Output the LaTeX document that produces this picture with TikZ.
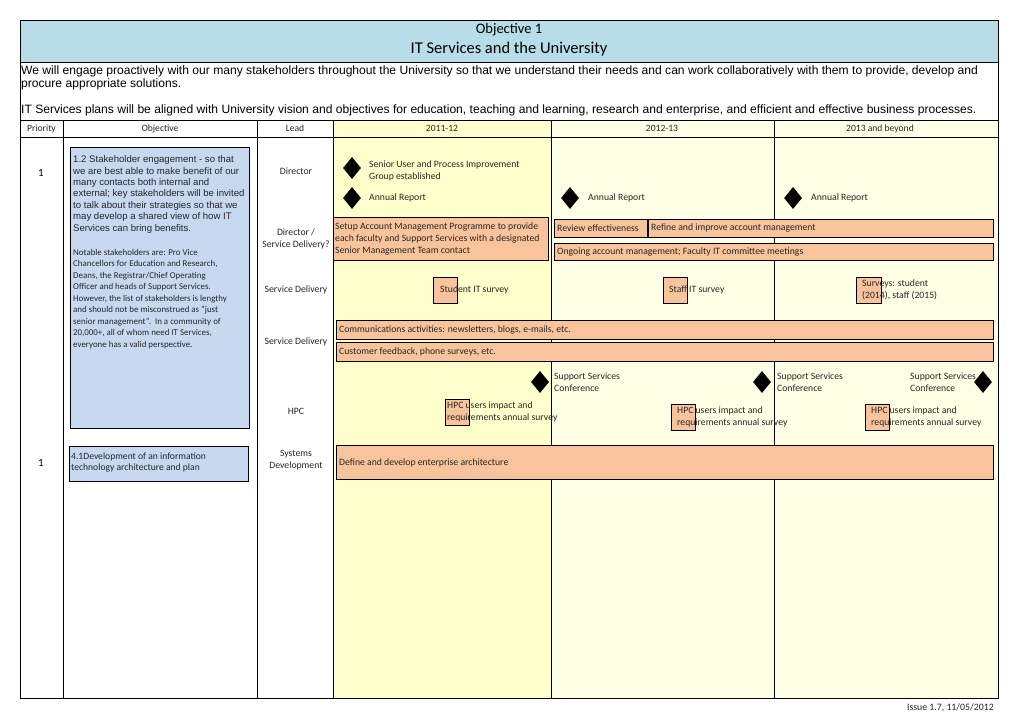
\documentclass[tikz,border=0pt]{standalone}
\usepackage{fontspec}
\setmainfont{Carlito}
\newfontfamily\arialf{Liberation Sans}
\usetikzlibrary{shapes.geometric}
\definecolor{hdrblue}{HTML}{B7DDE8}
\definecolor{boxblue}{HTML}{C6D9F1}
\definecolor{barorange}{HTML}{F9C49B}
\definecolor{yelA}{HTML}{FFFFCC}
\definecolor{yelB}{HTML}{FFFFE6}
\tikzset{
  grid/.style={line width=0.8pt, draw=black},
  lbl/.style={font=\fontsize{9.7}{12}\selectfont, inner sep=0pt, anchor=west, align=left, text=black!85},
  hdr/.style={font=\fontsize{9.6}{11}\selectfont, inner sep=0pt, anchor=base, text=black!85},
  lead/.style={font=\fontsize{9.7}{12}\selectfont, inner sep=0pt, align=center, text=black!85},
  bar/.style={draw=black, line width=0.9pt, fill=barorange, inner sep=0pt, anchor=north west},
  sq/.style={draw=black, line width=0.8pt, fill=barorange, inner sep=0pt, anchor=north west, minimum width=24pt, minimum height=26pt},
  objbox/.style={draw=black, line width=1pt, fill=boxblue, inner sep=0pt, anchor=north west},
  ms/.style={diamond, fill=black, inner sep=0pt, minimum width=18pt, minimum height=22pt},
  para/.style={font=\arialf\fontsize{12.1}{14}\selectfont, inner sep=0pt, anchor=west}
}
\begin{document}
\begin{tikzpicture}[x=1pt,y=-1pt]
\useasboundingbox (0,0) rectangle (1019,720);
% backgrounds
\fill[white] (0,0) rectangle (1019,720);
\fill[hdrblue] (20,20) rectangle (998,62);
\fill[yelA] (333,120) rectangle (551,698);
\fill[yelB] (551,120) rectangle (998,698);
% grid
\draw[grid] (20,20) rectangle (998,698);
\draw[grid] (20,62) -- (998,62);
\draw[grid] (20,120) -- (998,120);
\draw[grid] (20,137) -- (998,137);
\foreach \x in {63,257,333,551,774} \draw[grid] (\x,120) -- (\x,698);
% header
\node[font=\fontsize{14.5}{16}\selectfont, inner sep=0pt] (t1) at (509,30) {Objective 1};
\node[font=\fontsize{16.5}{18}\selectfont, inner sep=0pt] (t2) at (509,49) {IT Services and the University};
\node[para] (p1) at (21,71) {We will engage proactively with our many stakeholders throughout the University so that we understand their needs and can work collaboratively with them to provide, develop and};
\node[para] (p2) at (21,84) {procure appropriate solutions.};
\node[para] (p3) at (21,110) {IT Services plans will be aligned with University vision and objectives for education, teaching and learning, research and enterprise, and efficient and effective business processes.};
% column headers
\node[hdr] (h1) at (41.5,131.5) {Priority};
\node[hdr] (h2) at (160,131.5) {Objective};
\node[hdr] (h3) at (295,131.5) {Lead};
\node[hdr] (h4) at (442,131.5) {2011-12};
\node[hdr] (h5) at (662,131.5) {2012-13};
\node[hdr] (h6) at (880,131.5) {2013 and beyond};
% priorities
\node[font=\fontsize{11}{12}\selectfont, inner sep=0pt] (pr1) at (41,173) {1};
\node[font=\fontsize{11}{12}\selectfont, inner sep=0pt] (pr2) at (41,463) {1};
% objective boxes
\node[objbox, minimum width=179pt, minimum height=281pt] (ob1) at (70,147) {};
\node[inner sep=0pt, anchor=west, align=left, font=\arialf\fontsize{9.6}{11.35}\selectfont, text=black!85] (ob1a) at (73,194.5) {1.2 Stakeholder engagement - so that\\we are best able to make benefit of our\\many contacts both internal and\\external; key stakeholders will be invited\\to talk about their strategies so that we\\may develop a shared view of how IT\\Services can bring benefits.};
\node[inner sep=0pt, anchor=west, align=left, font=\fontsize{8.9}{11.5}\selectfont, text=black!85] (ob1b) at (73,299) {Notable stakeholders are: Pro Vice\\Chancellors for Education and Research,\\Deans, the Registrar/Chief Operating\\Officer and heads of Support Services.\\However, the list of stakeholders is lengthy\\and should not be misconstrued as "just\\senior management".\ \ In a community of\\20,000+, all of whom need IT Services,\\everyone has a valid perspective.};
\node[objbox, minimum width=179pt, minimum height=35pt] (ob2) at (69,446) {};
\node[inner sep=0pt, anchor=west, align=left, font=\fontsize{9.6}{11.5}\selectfont, text=black!85] (ob2a) at (71,462.5) {4.1Development of an information\\technology architecture and plan};
% leads
\node[lead] (l1) at (296,171) {Director};
\node[lead] (l2) at (296,239) {Director /\\Service Delivery?};
\node[lead] (l3) at (296,290) {Service Delivery};
\node[lead] (l4) at (296,342) {Service Delivery};
\node[lead] (l5) at (296,411) {HPC};
\node[lead] (l6) at (296,460) {Systems\\Development};
% milestones
\node[ms] (m1) at (352,168) {};
\node[lbl] (m1t) at (369,170.5) {Senior User and Process Improvement\\Group established};
\node[ms] (m2) at (352,198) {};
\node[lbl] (m2t) at (369,198) {Annual Report};
\node[ms] (m3) at (570,198) {};
\node[lbl] (m3t) at (588,198) {Annual Report};
\node[ms] (m4) at (793,198) {};
\node[lbl] (m4t) at (811,198) {Annual Report};
% account management
\node[bar, minimum width=215pt, minimum height=43pt] (b1) at (333,217) {};
\node[lbl] (b1t) at ([xshift=2pt]b1.west) {Setup Account Management Programme to provide\\each faculty and Support Services with a designated\\Senior Management Team contact};
\node[bar, minimum width=93pt, minimum height=18pt] (b2) at (554,219) {};
\node[lbl] (b2t) at ([xshift=3pt]b2.west) {Review effectiveness};
\node[bar, minimum width=345pt, minimum height=18pt] (b3) at (648,219) {};
\node[lbl] (b3t) at ([xshift=3pt]b3.west) {Refine and improve account management};
\node[bar, minimum width=439pt, minimum height=17pt] (b4) at (554,243) {};
\node[lbl] (b4t) at ([xshift=3pt]b4.west) {Ongoing account management; Faculty IT committee meetings};
% surveys
\node[sq] (s1) at (433,277) {};
\node[lbl] (s1t) at (440,290) {Student IT survey};
\node[sq] (s2) at (663,277) {};
\node[lbl] (s2t) at (669,290) {Staff IT survey};
\node[sq, minimum width=25pt] (s3) at (856,277) {};
\node[lbl] (s3t) at (862,290) {Surveys: student\\(2014), staff (2015)};
% communications
\node[bar, minimum width=657pt, minimum height=19pt] (b5) at (336,320) {};
\node[lbl] (b5t) at ([xshift=3pt]b5.west) {Communications activities: newsletters, blogs, e-mails, etc.};
\node[bar, minimum width=657pt, minimum height=19pt] (b6) at (336,342) {};
\node[lbl] (b6t) at ([xshift=3pt]b6.west) {Customer feedback, phone surveys, etc.};
% HPC
\node[ms] (c1) at (540,382) {};
\node[lbl] (c1t) at (554,382) {Support Services\\Conference};
\node[ms] (c2) at (762,382) {};
\node[lbl] (c2t) at (777,382) {Support Services\\Conference};
\node[ms] (c3) at (983,382) {};
\node[lbl] (c3t) at (910,382) {Support Services\\Conference};
\node[sq] (h1s) at (445,399) {};
\node[lbl] (h1t) at (447,412) {HPC users impact and\\requirements annual survey};
\node[sq] (h2s) at (671,404) {};
\node[lbl] (h2t) at (677,416.5) {HPC users impact and\\requirements annual survey};
\node[sq] (h3s) at (865,404) {};
\node[lbl] (h3t) at (871,416.5) {HPC users impact and\\requirements annual survey};
% enterprise architecture
\node[bar, minimum width=657pt, minimum height=34pt] (b7) at (336,445) {};
\node[lbl] (b7t) at ([xshift=3pt]b7.west) {Define and develop enterprise architecture};
% footer
\node[font=\fontsize{9.8}{11}\selectfont, inner sep=0pt, anchor=east, text=black!85] (ft) at (994,708) {Issue 1.7, 11/05/2012};
\end{tikzpicture}
\end{document}
